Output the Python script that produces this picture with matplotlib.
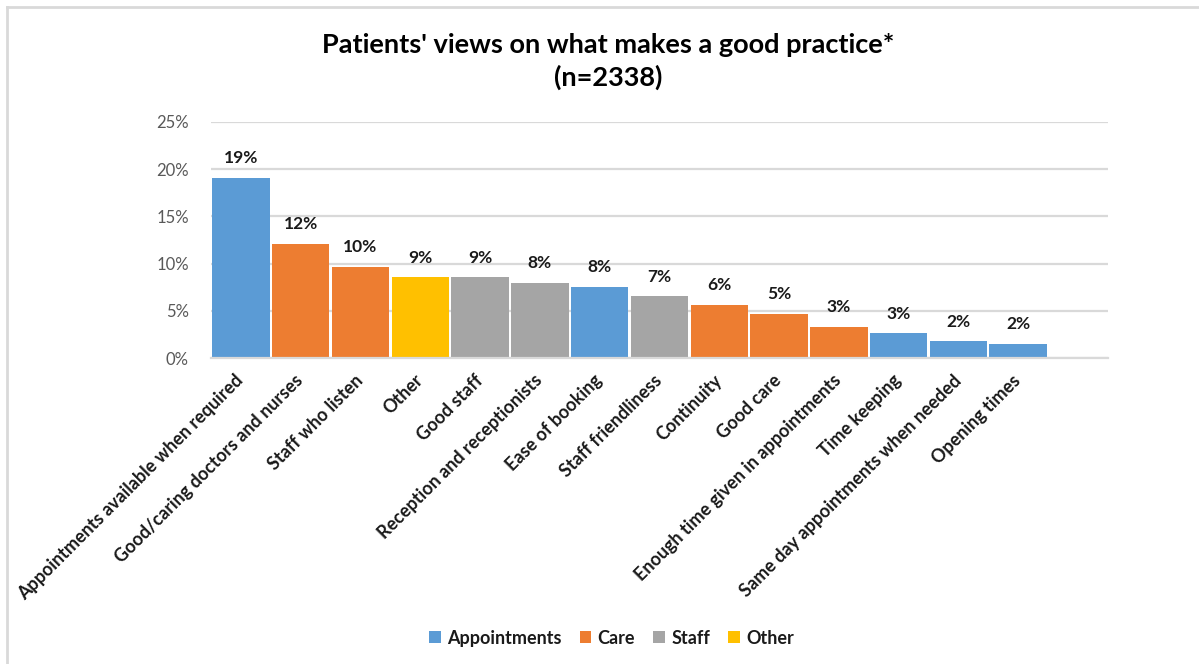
import matplotlib
matplotlib.use("Agg")
import matplotlib.pyplot as plt
from matplotlib.patches import Patch
from matplotlib.lines import Line2D

plt.rcParams['font.family'] = ['Lato', 'DejaVu Sans']

# share of patients mentioning each theme (%)
categories = [
    "Appointments available when required",
    "Good/caring doctors and nurses",
    "Staff who listen",
    "Other",
    "Good staff",
    "Reception and receptionists",
    "Ease of booking",
    "Staff friendliness",
    "Continuity",
    "Good care",
    "Enough time given in appointments",
    "Time keeping",
    "Same day appointments when needed",
    "Opening times",
]
values = [19.1, 12.1, 9.65, 8.55, 8.55, 7.95, 7.55, 6.55, 5.65, 4.7, 3.3, 2.65, 1.8, 1.55]
groups = ["Appointments", "Care", "Care", "Other", "Staff", "Staff", "Appointments",
          "Staff", "Care", "Care", "Care", "Appointments", "Appointments", "Appointments"]

legend_order = ["Appointments", "Care", "Staff", "Other"]
group_colors = {
    "Appointments": "#5B9BD5",
    "Care": "#ED7D31",
    "Staff": "#A5A5A5",
    "Other": "#FFC000",
}

fig = plt.figure(figsize=(11.99, 6.64), dpi=100)
ax = fig.add_axes([0.176, 0.4604, 0.748, 0.3563])

x = list(range(len(categories)))
ax.bar(x, values, width=0.96, color=[group_colors[g] for g in groups], zorder=3)

for xi, v in zip(x, values):
    ax.annotate("{:.0f}%".format(v), (xi, v), xytext=(0, 10.5), textcoords="offset points",
                ha="center", va="baseline", fontsize=12.5, fontweight="bold", color="#1a1a1a")

ax.set_xlim(-0.5, len(categories) + 0.5)
ax.set_ylim(0, 25)
ax.set_yticks([0, 5, 10, 15, 20, 25])
ax.set_yticklabels(["{}%".format(t) for t in [0, 5, 10, 15, 20, 25]],
                   fontsize=12, color="#595959")
ax.set_xticks(x)
ax.set_xticklabels(categories, rotation=45, ha="right", va="center",
                   rotation_mode="anchor", fontsize=13, fontweight="bold", color="#1a1a1a")
ax.tick_params(axis="both", length=0)
ax.tick_params(axis="x", pad=14)
ax.tick_params(axis="y", pad=16)

ax.grid(axis="y", color="#D9D9D9", linewidth=1.6, zorder=0)
for side in ["top", "right", "left"]:
    ax.spines[side].set_visible(False)
ax.spines["bottom"].set_color("#D9D9D9")
ax.spines["bottom"].set_linewidth(1.6)
ax.spines["bottom"].set_zorder(4)

fig.text(0.507, 0.932, "Patients' views on what makes a good practice*",
         ha="center", va="center", fontsize=19.5, fontweight="bold", color="#000000")
fig.text(0.507, 0.884, "(n=2338)",
         ha="center", va="center", fontsize=19.5, fontweight="bold", color="#000000")

handles = [Patch(facecolor=group_colors[g], edgecolor="none", label=g) for g in legend_order]
leg = fig.legend(handles=handles, loc="center", bbox_to_anchor=(0.51, 0.039), ncol=4,
                 frameon=False, handlelength=0.65, handleheight=0.65, handletextpad=0.35,
                 columnspacing=1.0, prop={"size": 13, "weight": "bold"})
for t in leg.get_texts():
    t.set_color("#1a1a1a")

# chart frame
fig.add_artist(Line2D([0.0062, 0.0062], [0.0, 0.9895], color="#D9D9D9", linewidth=2))
fig.add_artist(Line2D([0.0062, 1.0], [0.9895, 0.9895], color="#D9D9D9", linewidth=2))

fig.savefig("out.png", dpi=100)
